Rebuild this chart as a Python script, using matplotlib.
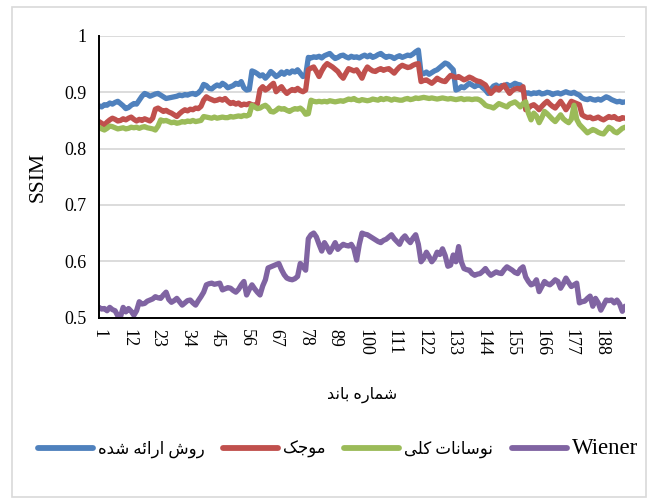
import matplotlib
matplotlib.use("Agg")
import matplotlib.pyplot as plt
from matplotlib.patches import Rectangle
from matplotlib.ticker import FuncFormatter

plt.rcParams["font.family"] = ["Liberation Serif", "DejaVu Sans"]

# ── data (SSIM per band) ─────────────────────────────────────────────
bands = list(range(1, 198))

proposed = [
    0.876, 0.874, 0.878, 0.877, 0.881, 0.879, 0.882, 0.884, 0.880, 0.876,
    0.871, 0.873, 0.877, 0.880, 0.879, 0.886, 0.893, 0.898, 0.896, 0.893,
    0.895, 0.897, 0.898, 0.895, 0.892, 0.889, 0.890, 0.891, 0.892, 0.893,
    0.895, 0.894, 0.896, 0.895, 0.897, 0.898, 0.896, 0.899, 0.904, 0.914,
    0.912, 0.907, 0.906, 0.910, 0.913, 0.911, 0.916, 0.913, 0.908, 0.910,
    0.912, 0.916, 0.914, 0.919, 0.908, 0.904, 0.905, 0.938, 0.936, 0.933,
    0.929, 0.931, 0.925, 0.930, 0.937, 0.933, 0.928, 0.931, 0.936, 0.932,
    0.937, 0.934, 0.938, 0.936, 0.940, 0.934, 0.928, 0.930, 0.962, 0.961,
    0.963, 0.962, 0.964, 0.961, 0.965, 0.967, 0.969, 0.964, 0.960, 0.962,
    0.965, 0.966, 0.963, 0.961, 0.964, 0.962, 0.963, 0.961, 0.964, 0.966,
    0.963, 0.966, 0.962, 0.964, 0.967, 0.969, 0.965, 0.962, 0.964, 0.963,
    0.960, 0.963, 0.965, 0.962, 0.964, 0.966, 0.965, 0.968, 0.972, 0.975,
    0.934, 0.933, 0.936, 0.932, 0.935, 0.938, 0.940, 0.944, 0.948, 0.952,
    0.950, 0.945, 0.940, 0.904, 0.906, 0.910, 0.908, 0.912, 0.916, 0.913,
    0.910, 0.913, 0.913, 0.908, 0.904, 0.898, 0.905, 0.911, 0.913, 0.909,
    0.912, 0.910, 0.914, 0.911, 0.913, 0.916, 0.914, 0.913, 0.902, 0.898,
    0.899, 0.897, 0.899, 0.898, 0.900, 0.897, 0.898, 0.900, 0.899, 0.896,
    0.898, 0.899, 0.897, 0.899, 0.901, 0.899, 0.898, 0.900, 0.897, 0.895,
    0.890, 0.888, 0.887, 0.889, 0.887, 0.886, 0.888, 0.886, 0.889, 0.892,
    0.890, 0.887, 0.885, 0.883, 0.884, 0.882, 0.883,
]

wavelet = [
    0.848, 0.845, 0.842, 0.847, 0.851, 0.854, 0.852, 0.849, 0.850, 0.853,
    0.851, 0.854, 0.856, 0.852, 0.849, 0.852, 0.850, 0.853, 0.851, 0.849,
    0.854, 0.870, 0.872, 0.869, 0.866, 0.868, 0.865, 0.863, 0.860, 0.857,
    0.862, 0.866, 0.869, 0.867, 0.870, 0.869, 0.872, 0.871, 0.875, 0.886,
    0.892, 0.889, 0.887, 0.885, 0.886, 0.888, 0.886, 0.889, 0.884, 0.880,
    0.882, 0.879, 0.881, 0.877, 0.879, 0.878, 0.880, 0.878, 0.877, 0.879,
    0.905, 0.910, 0.904, 0.907, 0.912, 0.916, 0.901, 0.906, 0.910, 0.903,
    0.898, 0.902, 0.905, 0.903, 0.907, 0.903, 0.901, 0.904, 0.940, 0.943,
    0.945, 0.937, 0.928, 0.938, 0.946, 0.951, 0.948, 0.945, 0.941, 0.937,
    0.930, 0.925, 0.934, 0.942, 0.940, 0.938, 0.940, 0.933, 0.925, 0.937,
    0.945, 0.941, 0.938, 0.937, 0.940, 0.942, 0.939, 0.941, 0.942, 0.938,
    0.934, 0.940, 0.945, 0.948, 0.946, 0.944, 0.945, 0.948, 0.950, 0.951,
    0.919, 0.921, 0.922, 0.919, 0.916, 0.920, 0.925, 0.922, 0.920, 0.919,
    0.925, 0.930, 0.928, 0.926, 0.928, 0.925, 0.922, 0.924, 0.927, 0.925,
    0.922, 0.920, 0.919, 0.916, 0.913, 0.905, 0.898, 0.903, 0.908, 0.904,
    0.909, 0.913, 0.905, 0.898, 0.903, 0.906, 0.907, 0.905, 0.910, 0.869,
    0.872, 0.876, 0.878, 0.874, 0.869, 0.875, 0.880, 0.884, 0.879, 0.875,
    0.872, 0.878, 0.884, 0.877, 0.869, 0.876, 0.884, 0.882, 0.880, 0.878,
    0.860, 0.857, 0.855, 0.856, 0.853, 0.854, 0.856, 0.853, 0.851, 0.854,
    0.857, 0.855, 0.857, 0.853, 0.852, 0.855, 0.854,
]

total_variation = [
    0.838, 0.835, 0.833, 0.836, 0.840, 0.839, 0.837, 0.835, 0.836, 0.837,
    0.835, 0.836, 0.838, 0.837, 0.838, 0.836, 0.838, 0.839, 0.837, 0.836,
    0.835, 0.833, 0.840, 0.851, 0.849, 0.850, 0.848, 0.846, 0.847, 0.845,
    0.846, 0.848, 0.847, 0.849, 0.848, 0.850, 0.848, 0.849, 0.850, 0.857,
    0.856, 0.855, 0.854, 0.856, 0.854, 0.855, 0.856, 0.855, 0.855, 0.857,
    0.856, 0.857, 0.858, 0.857, 0.859, 0.858, 0.860, 0.877, 0.874, 0.871,
    0.872, 0.875, 0.877, 0.873, 0.866, 0.865, 0.868, 0.872, 0.870, 0.871,
    0.868, 0.866, 0.869, 0.871, 0.870, 0.872, 0.868, 0.861, 0.862, 0.886,
    0.884, 0.883, 0.884, 0.883, 0.884, 0.883, 0.885, 0.884, 0.883, 0.884,
    0.885, 0.884, 0.886, 0.888, 0.887, 0.889, 0.886, 0.885, 0.887, 0.886,
    0.885, 0.886, 0.888, 0.887, 0.886, 0.889, 0.887, 0.889, 0.888, 0.886,
    0.888, 0.887, 0.886, 0.886, 0.888, 0.889, 0.887, 0.888, 0.890, 0.889,
    0.890, 0.891, 0.890, 0.889, 0.890, 0.889, 0.888, 0.889, 0.890, 0.889,
    0.888, 0.889, 0.888, 0.887, 0.888, 0.889, 0.887, 0.888, 0.888, 0.887,
    0.888, 0.888, 0.886, 0.882, 0.877, 0.875, 0.874, 0.872, 0.876, 0.880,
    0.878, 0.876, 0.874, 0.879, 0.881, 0.883, 0.879, 0.874, 0.880, 0.883,
    0.863, 0.851, 0.863, 0.858, 0.846, 0.855, 0.866, 0.862, 0.857, 0.852,
    0.848, 0.854, 0.860, 0.853, 0.849, 0.846, 0.852, 0.877, 0.852, 0.843,
    0.838, 0.833, 0.828, 0.831, 0.834, 0.832, 0.829, 0.827, 0.826, 0.832,
    0.838, 0.835, 0.830, 0.828, 0.832, 0.836, 0.838,
]

wiener = [
    0.518, 0.515, 0.516, 0.512, 0.518, 0.514, 0.512, 0.503, 0.501, 0.518,
    0.510, 0.516, 0.511, 0.504, 0.512, 0.528, 0.524, 0.525, 0.529, 0.531,
    0.533, 0.537, 0.535, 0.534, 0.540, 0.545, 0.532, 0.527, 0.530, 0.534,
    0.528, 0.522, 0.526, 0.530, 0.531, 0.526, 0.522, 0.530, 0.537, 0.545,
    0.558, 0.560, 0.561, 0.559, 0.560, 0.561, 0.549, 0.551, 0.553, 0.552,
    0.548, 0.545, 0.550, 0.558, 0.564, 0.540, 0.550, 0.558, 0.551, 0.545,
    0.540, 0.556, 0.567, 0.588, 0.590, 0.592, 0.594, 0.596, 0.585, 0.576,
    0.570, 0.568, 0.567, 0.569, 0.573, 0.596, 0.590, 0.584, 0.640, 0.647,
    0.650, 0.643, 0.630, 0.618, 0.633, 0.625, 0.616, 0.624, 0.633, 0.621,
    0.626, 0.630, 0.628, 0.627, 0.630, 0.622, 0.602, 0.630, 0.650, 0.648,
    0.647, 0.644, 0.641, 0.638, 0.635, 0.633, 0.637, 0.639, 0.643, 0.647,
    0.640, 0.635, 0.630, 0.640, 0.645, 0.638, 0.633, 0.641, 0.647, 0.630,
    0.599, 0.605, 0.616, 0.608, 0.599, 0.605, 0.616, 0.612, 0.622, 0.610,
    0.591, 0.593, 0.611, 0.599, 0.626, 0.599, 0.587, 0.585, 0.584, 0.578,
    0.575, 0.577, 0.578, 0.582, 0.587, 0.580, 0.575, 0.578, 0.581, 0.579,
    0.578, 0.585, 0.590, 0.587, 0.584, 0.580, 0.578, 0.586, 0.590, 0.572,
    0.564, 0.558, 0.560, 0.567, 0.546, 0.555, 0.564, 0.560, 0.558, 0.562,
    0.567, 0.564, 0.552, 0.560, 0.570, 0.562, 0.555, 0.558, 0.561, 0.526,
    0.528, 0.529, 0.534, 0.538, 0.520, 0.534, 0.526, 0.513, 0.522, 0.531,
    0.530, 0.531, 0.526, 0.531, 0.524, 0.511, 0.520,
]

x_ticks = list(range(1, 198, 11))


# Persian text: presentation forms in logical order, reversed for display
def rtl(s):
    return s[::-1]


XLABEL = rtl("\uFEB7\uFEE4\uFE8E\uFEAD\uFEE9 \uFE91\uFE8E\uFEE7\uFEAA")            # شماره باند
LBL_PROPOSED = rtl("\uFEAD\uFEED\uFEB5 \uFE8D\uFEAD\uFE8D\uFE8B\uFEEA \uFEB7\uFEAA\uFEE9")  # روش ارائه شده
LBL_WAVELET = rtl("\uFEE3\uFEEE\uFE9F\uFB8F")                                    # موجک
LBL_TV = rtl("\uFEE7\uFEEE\uFEB3\uFE8E\uFEE7\uFE8E\uFE95 \uFB90\uFEE0\uFBFD")      # نوسانات کلی

BLUE = "#4F81BD"
RED = "#C0504D"
GREEN = "#9BBB59"
PURPLE = "#8064A2"
GRID = "#D9D9D9"

fig = plt.figure(figsize=(6.55, 5.03), dpi=100)
fig.patch.set_facecolor("white")
fig.patches.append(Rectangle((12 / 655, 6 / 503), 634 / 655, 490 / 503,
                             transform=fig.transFigure, fill=False,
                             edgecolor=GRID, linewidth=1.2))

ax = fig.add_axes([99 / 655, (503 - 317.5) / 503, 526 / 655, 281.5 / 503])

lw = 3.8
style = dict(lw=lw, solid_capstyle="round", solid_joinstyle="round")
ax.plot(bands, proposed, color=BLUE, label=LBL_PROPOSED, **style)
ax.plot(bands, wavelet, color=RED, label=LBL_WAVELET, **style)
ax.plot(bands, total_variation, color=GREEN, label=LBL_TV, **style)
ax.plot(bands, wiener, color=PURPLE, label="Wiener", **style)

ax.set_xlim(1, 197)
ax.set_ylim(0.5, 1.0)
ax.set_yticks([0.5, 0.6, 0.7, 0.8, 0.9, 1.0])
ax.yaxis.set_major_formatter(FuncFormatter(lambda v, p: "%g" % round(v, 2)))
ax.set_xticks(x_ticks)
ax.set_xticklabels([str(t) for t in x_ticks], rotation=-90)
ax.tick_params(axis="both", length=0, labelsize=13, colors="black")
ax.tick_params(axis="y", pad=9)
ax.tick_params(axis="x", pad=8)

ax.grid(axis="y", color=GRID, lw=1.3)
ax.set_axisbelow(True)
for s in ("top", "right"):
    ax.spines[s].set_visible(False)
ax.spines["left"].set_linewidth(1.4)
ax.spines["bottom"].set_linewidth(1.4)

ax.set_ylabel("SSIM", fontsize=15.5, labelpad=12)
ax.set_xlabel(XLABEL, fontsize=11.5, labelpad=22)

leg = fig.legend(loc="center", bbox_to_anchor=(338 / 655, (503 - 448) / 503), ncol=4,
                 frameon=False, fontsize=12, handlelength=3.3, handletextpad=0.3,
                 columnspacing=1.1)
leg.get_texts()[3].set_fontsize(16.5)
for h in leg.get_lines():
    h.set_linewidth(4.2)
    h.set_solid_capstyle("round")

fig.savefig("out.png", dpi=100)
